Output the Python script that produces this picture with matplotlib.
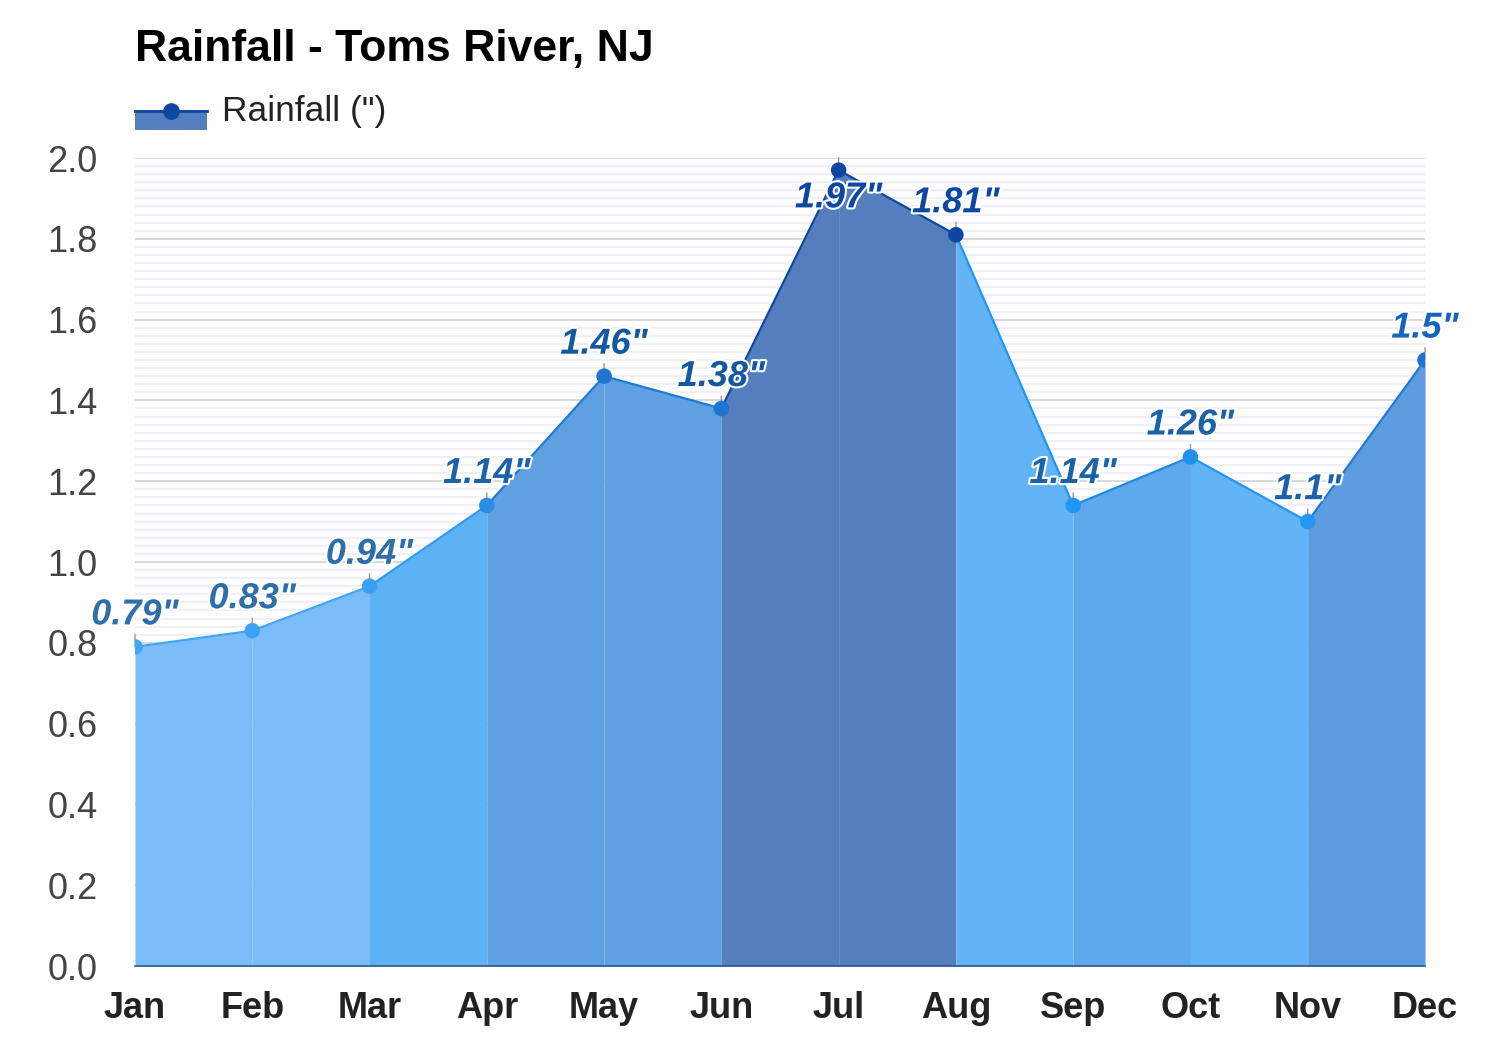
import matplotlib.pyplot as plt
import matplotlib.patheffects as pe
from matplotlib.patches import Rectangle
from matplotlib.lines import Line2D
import numpy as np

plt.rcParams["font.family"] = ["Liberation Sans", "DejaVu Sans"]

months = ["Jan", "Feb", "Mar", "Apr", "May", "Jun",
          "Jul", "Aug", "Sep", "Oct", "Nov", "Dec"]
rainfall = [0.79, 0.83, 0.94, 1.14, 1.46, 1.38, 1.97, 1.81, 1.14, 1.26, 1.1, 1.5]

# colour per segment (between month i and i+1)
seg_fill = ["#7bbdf8", "#7bbdf8", "#5db1f5", "#5fa0e0", "#5fa0e0", "#557ebf",
            "#557ebf", "#62b4f6", "#5ea8ec", "#62b4f6", "#5c9cdf"]
seg_line = ["#42a5f5", "#42a5f5", "#2f9af2", "#1e7ad6", "#1e7ad6", "#0d47a1",
            "#0d47a1", "#2196f3", "#1e88e5", "#2196f3", "#1e7ad6"]
# colour per point
pt_color = ["#42a5f5", "#3ea2f4", "#3a9ef2", "#2a8ee8", "#1e74d0", "#1e74d0",
            "#0d47a1", "#0d47a1", "#2196f3", "#2191f0", "#2196f3", "#1e74d0"]
lbl_color = ["#2f6ea8", "#2f6ea8", "#2f6ea8", "#1c62a8", "#1458a0", "#1458a0",
             "#0d47a1", "#0d47a1", "#1c62a8", "#1c62a8", "#1c62a8", "#1565c0"]

fig = plt.figure(figsize=(15, 10.5), dpi=100, facecolor="#fdfefd")
ax = fig.add_axes([135 / 1500, 1 - 966 / 1050, 1290 / 1500, 808 / 1050])
ax.set_facecolor("#fdfefd")

x = np.arange(len(months))

# grid
ax.set_yticks(np.arange(0, 2.01, 0.2))
ax.set_yticks(np.arange(0, 2.001, 0.02), minor=True)
ax.grid(True, which="minor", axis="y", color="#efedf4", linewidth=1.2, zorder=0)
ax.grid(True, which="major", axis="y", color="#d9d9d9", linewidth=1.4, zorder=0)

for i in range(len(months) - 1):
    xs = x[i:i + 2]
    ys = rainfall[i:i + 2]
    ax.fill_between(xs, ys, 0, color=seg_fill[i], linewidth=0, zorder=2)
    ax.plot(xs, ys, color=seg_line[i], linewidth=1.6, zorder=3)

ax.scatter(x, rainfall, s=125, c=pt_color, zorder=5, linewidths=0)

for i, v in enumerate(rainfall):
    ax.annotate("", xy=(x[i], v), xytext=(0, 9), textcoords="offset points",
                arrowprops=dict(arrowstyle="-", color="#9a9a9a", lw=1.0,
                                shrinkA=0, shrinkB=0), zorder=4)
    dy = -20 if v > 1.9 else 23
    ax.annotate(f'{v:g}"', xy=(x[i], v), xytext=(0, dy), textcoords="offset points",
                ha="center", va="center", fontsize=26, fontweight="bold",
                fontstyle="italic", color=lbl_color[i], zorder=6,
                path_effects=[pe.withStroke(linewidth=3, foreground="white")])

ax.set_xlim(0, 11)
ax.set_ylim(0, 2.0)
ax.set_xticks(x)
ax.set_xticklabels(months, fontsize=26, fontweight="bold", color="#222222")
ax.set_yticklabels([f"{t:.1f}" for t in np.arange(0, 2.01, 0.2)],
                   fontsize=26, color="#444444")
ax.tick_params(axis="both", which="both", length=0)
ax.tick_params(axis="x", pad=18)
ax.tick_params(axis="y", pad=27)
for s in ["top", "right", "left"]:
    ax.spines[s].set_visible(False)
ax.spines["bottom"].set_color("#2c5b8c")
ax.spines["bottom"].set_linewidth(1.2)

fig.text(135 / 1500, 1 - 50 / 1050, "Rainfall - Toms River, NJ", fontsize=32,
         fontweight="bold", color="#000000", va="center", ha="left")

# legend
fig.add_artist(Rectangle((135 / 1500, 1 - 130 / 1050), 72 / 1500, 20 / 1050,
                         transform=fig.transFigure, color="#557ebf", lw=0))
fig.add_artist(Line2D([135 / 1500, 207 / 1500], [1 - 111 / 1050, 1 - 111 / 1050],
                      transform=fig.transFigure, color="#0d47a1", lw=2))
fig.add_artist(Line2D([171 / 1500], [1 - 111 / 1050], transform=fig.transFigure,
                      marker="o", markersize=11, color="#0d47a1", lw=0))
fig.text(222 / 1500, 1 - 112 / 1050, 'Rainfall (")', fontsize=25.5,
         color="#222222", va="center", ha="left")

fig.savefig("out.png", dpi=100, facecolor=fig.get_facecolor())
